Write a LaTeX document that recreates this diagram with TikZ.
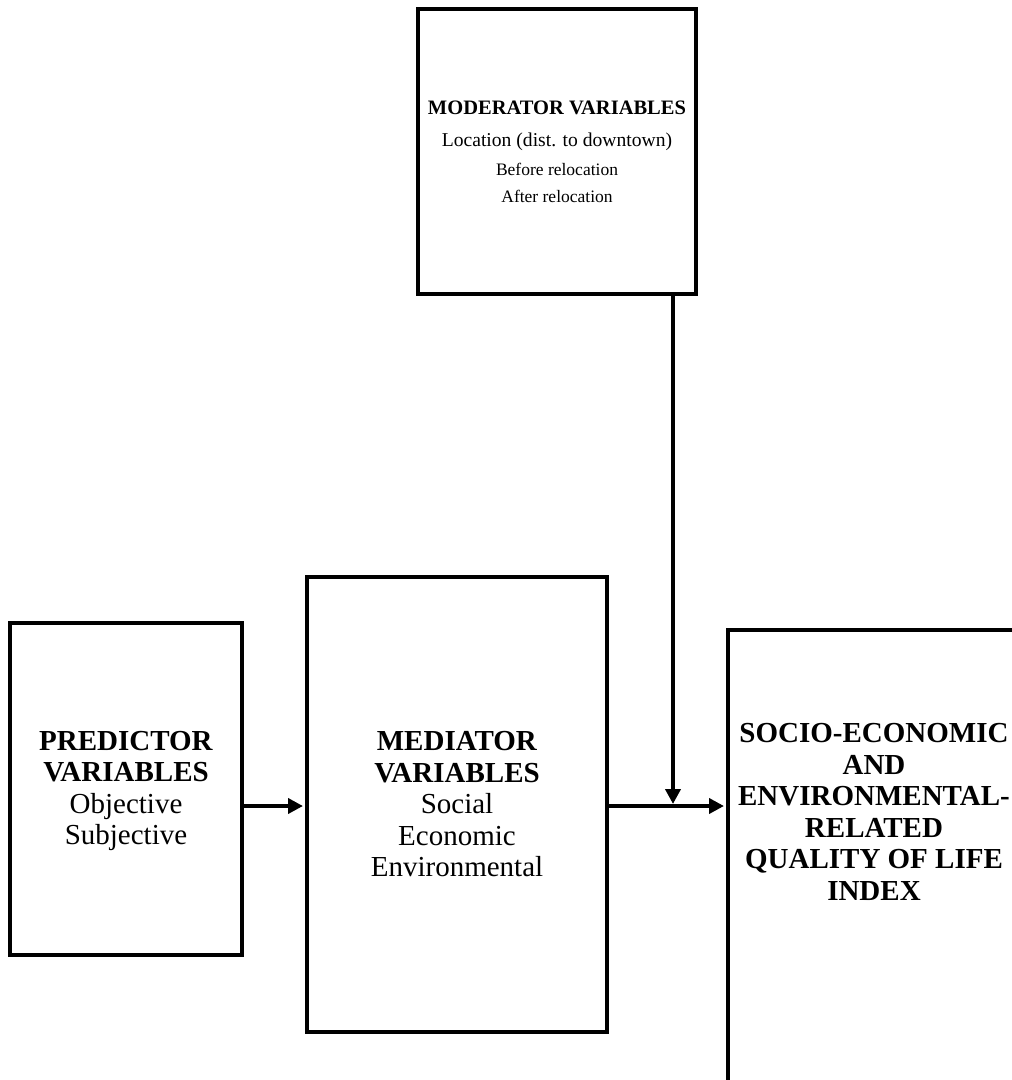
\documentclass[tikz,border=0pt]{standalone}
\usepackage{fontspec}
\setmainfont{Liberation Serif}
\usetikzlibrary{arrows.meta}
\begin{document}
\begin{tikzpicture}[x=1pt,y=-1pt,
  box/.style={draw, line width=4pt, inner sep=0pt, align=center},
  big/.style={font=\fontsize{29}{31.5}\selectfont},
  flow/.style={line width=4pt, shorten >=2pt, -{Triangle[length=15pt,width=15pt]}}]
\clip (0,0) rectangle (1012,1080);
% boxes
\node[box, minimum width=232pt, minimum height=332pt] (pred) at (126,789) {};
\node[big, align=center, inner sep=0pt] (predtext) at (126,791)
  {\textbf{PREDICTOR}\\\textbf{VARIABLES}\\Objective\\Subjective};
\node[box, big, minimum width=300pt, minimum height=455pt] (med) at (457,804.5)
  {\textbf{MEDIATOR}\\\textbf{VARIABLES}\\Social\\Economic\\Environmental};
\node[box, minimum width=278pt, minimum height=285pt] (mod) at (557,151.5) {};
\node[align=center, inner sep=0pt, font=\fontsize{20}{29}\selectfont] (modtext) at (557,152)
  {{\fontsize{20.5}{29}\selectfont\textbf{MODERATOR VARIABLES}}\\[3pt]
   {\fontsize{19.6}{29}\selectfont Location (dist. to downtown)}\\
   {\fontsize{17.5}{29}\selectfont Before relocation}\\[-2pt]
   {\fontsize{17.5}{29}\selectfont After relocation}};
\node[box, minimum width=297pt, minimum height=480pt] (qol) at (876.5,870) {};
\node[align=center, inner sep=0pt, font=\fontsize{29}{31.5}\selectfont] (qoltext) at (874,812)
  {\textbf{SOCIO-ECONOMIC}\\\textbf{AND}\\\textbf{ENVIRONMENTAL-}\\\textbf{RELATED}\\\textbf{QUALITY OF LIFE}\\\textbf{INDEX}};
% connectors
\coordinate (lane) at (0,806);
\coordinate (join) at (673,806);
\draw[flow] (pred.east |- lane) -- (med.west |- lane);
\draw[flow] (med.east |- lane) -- (qol.west |- lane);
\draw[flow] (mod.south -| join) -- (join);
\end{tikzpicture}
\end{document}
